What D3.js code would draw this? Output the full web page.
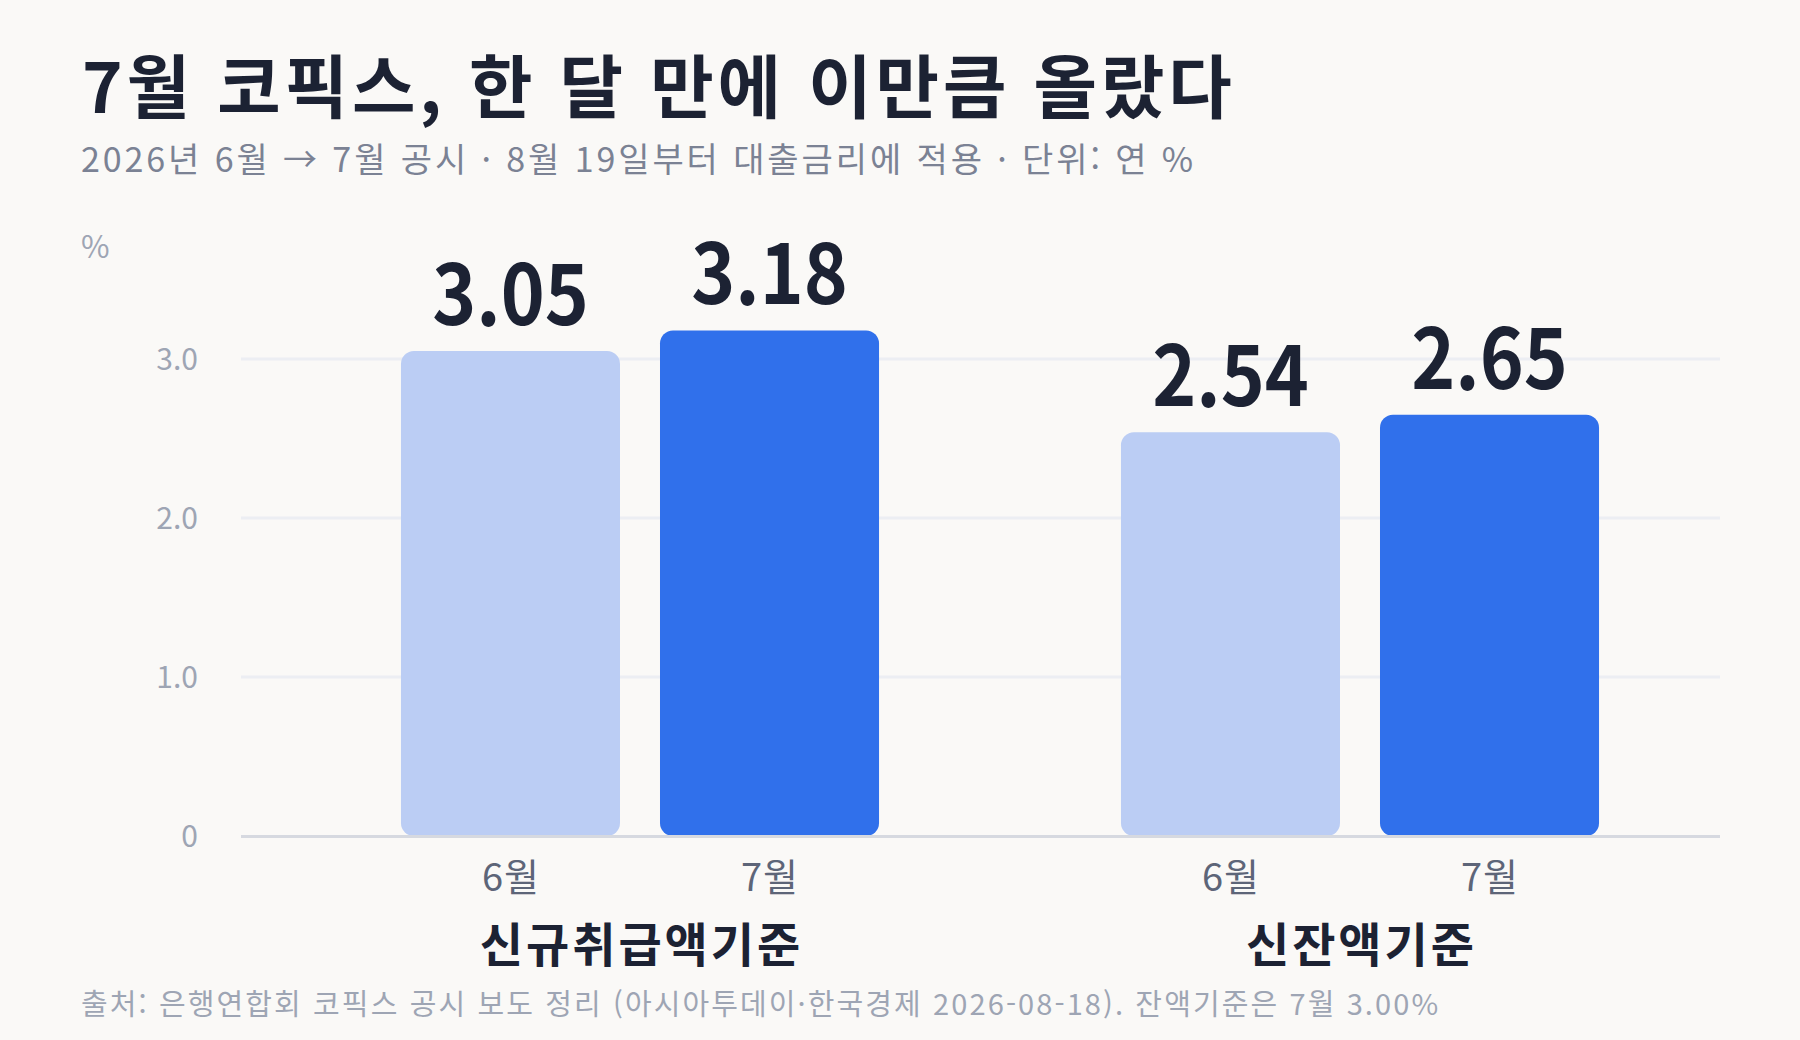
<!DOCTYPE html>
<html lang="ko">
<head>
<meta charset="utf-8">
<script src="https://cdn.jsdelivr.net/npm/d3@7"></script>
<style>
  html, body { margin: 0; padding: 0; background: #faf9f7; }
  svg { display: block; }
  text { font-family: "Noto Sans CJK KR", "Noto Sans", sans-serif; }
</style>
</head>
<body>
<svg id="chart" width="1800" height="1040"></svg>
<script>
// ---- data ----
const categories = ["신규취급액기준", "신잔액기준"];
const months = ["6월", "7월"];
const juneValues = [3.05, 2.54];
const julyValues = [3.18, 2.65];
const yTicks = [0, 1, 2, 3];
const yTickLabels = ["0", "1.0", "2.0", "3.0"];
const titleText = "7월 코픽스, 한 달 만에 이만큼 올랐다";
const subtitleText = "2026년 6월 → 7월 공시 · 8월 19일부터 대출금리에 적용 · 단위: 연 %";
const unitText = "%";
const sourceText = "출처: 은행연합회 코픽스 공시 보도 정리 (아시아투데이·한국경제 2026-08-18). 잔액기준은 7월 3.00%";

const rows = categories.map((c, i) => ({
  category: c,
  values: [
    { month: months[0], value: juneValues[i] },
    { month: months[1], value: julyValues[i] }
  ]
}));

const svg = d3.select("#chart");
const W = 1800, H = 1040;
svg.append("rect").attr("width", W).attr("height", H).attr("fill", "#faf9f7");

const gridLeft = 241, gridRight = 1720;
const y = d3.scaleLinear().domain([0, 3.5]).range([836, 279.5]);
const x0 = d3.scaleBand().domain(categories).range([280, 1720]).paddingInner(0).paddingOuter(0);
const x1 = d3.scaleBand().domain(months).range([0, x0.bandwidth()]).paddingInner(0.1544).paddingOuter(0.467);
const color = d3.scaleOrdinal().domain(months).range(["#bbcdf4", "#3070eb"]);

// title
svg.append("text").attr("x", 82).attr("y", 113)
  .attr("font-size", 69).attr("font-weight", 700).attr("fill", "#1c2233")
  .attr("letter-spacing", 3.9)
  .text(titleText);
svg.append("text").attr("x", 81).attr("y", 172)
  .attr("font-size", 34).attr("font-weight", 400).attr("fill", "#7b8294")
  .attr("letter-spacing", 2.9)
  .text(subtitleText);

// unit
svg.append("text").attr("x", 81).attr("y", 258)
  .attr("font-size", 31).attr("fill", "#9ea5b4").text(unitText);

// grid
const grid = svg.append("g");
grid.selectAll("line").data(yTicks.filter(t => t > 0)).join("line")
  .attr("x1", gridLeft).attr("x2", gridRight)
  .attr("y1", d => y(d)).attr("y2", d => y(d))
  .attr("stroke", "#eceef3").attr("stroke-width", 3);

// y tick labels
svg.append("g").selectAll("text").data(yTicks).join("text")
  .attr("x", 198).attr("y", d => y(d))
  .attr("dy", "0.36em")
  .attr("text-anchor", "end")
  .attr("font-size", 30).attr("fill", "#9ea5b4")
  .text((d, i) => yTickLabels[i]);

// bars
const groups = svg.append("g").selectAll("g").data(rows).join("g")
  .attr("transform", d => `translate(${x0(d.category)},0)`);

groups.selectAll("rect").data(d => d.values).join("rect")
  .attr("x", d => x1(d.month))
  .attr("width", x1.bandwidth())
  .attr("y", d => y(d.value))
  .attr("height", d => y(0) - y(d.value))
  .attr("rx", 13).attr("ry", 13)
  .attr("fill", d => color(d.month));

// baseline
svg.append("line")
  .attr("x1", gridLeft).attr("x2", gridRight)
  .attr("y1", y(0) + 0.5).attr("y2", y(0) + 0.5)
  .attr("stroke", "#d6d9e0").attr("stroke-width", 3);

// value labels
groups.selectAll("text.val").data(d => d.values).join("text")
  .attr("class", "val")
  .attr("transform", d => `translate(${x1(d.month) + x1.bandwidth() / 2},${y(d.value) - 26}) scale(0.9,1)`)
  .attr("text-anchor", "middle")
  .attr("font-size", 83).attr("font-weight", 700).attr("fill", "#1c2233")
  .text(d => d.value.toFixed(2));

// month labels
groups.selectAll("text.mon").data(d => d.values).join("text")
  .attr("class", "mon")
  .attr("x", d => x1(d.month) + x1.bandwidth() / 2)
  .attr("y", 891)
  .attr("dx", 0.5)
  .attr("text-anchor", "middle")
  .attr("font-size", 38).attr("letter-spacing", 1).attr("fill", "#5d6578")
  .text(d => d.month);

// category labels
groups.append("text")
  .attr("x", x0.bandwidth() / 2)
  .attr("y", 962)
  .attr("dx", 1.5)
  .attr("text-anchor", "middle")
  .attr("font-size", 47).attr("font-weight", 700).attr("fill", "#1c2233")
  .attr("letter-spacing", 3)
  .text(d => d.category);

// source
svg.append("text").attr("x", 81).attr("y", 1015)
  .attr("font-size", 29).attr("fill", "#9ea5b4")
  .attr("letter-spacing", 2.1)
  .text(sourceText);
</script>
</body>
</html>
